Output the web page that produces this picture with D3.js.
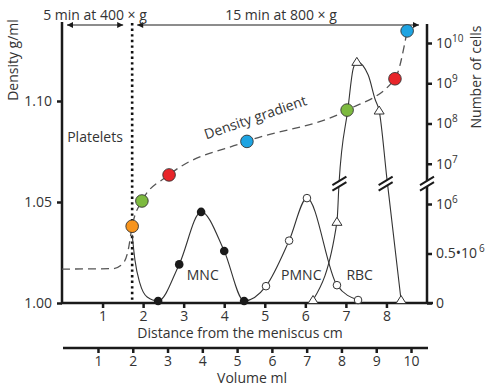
<!DOCTYPE html>
<html><head><meta charset="utf-8">
<script src="https://cdn.jsdelivr.net/npm/d3@7"></script>
<style>
html,body{margin:0;padding:0;background:#fff;}
svg text{font-family:"Open Sans","Noto Sans",sans-serif;fill:#333;}
</style></head>
<body>
<svg id="c" width="493" height="390"></svg>
<script>
// ---- Data ----
const distTicks = [1,2,3,4,5,6,7,8];
const volTicks = [1,2,3,4,5,6,7,8,9,10];
const densityTicks = [1.00, 1.05, 1.10];
const cellTicksLin = [0, 0.5e6, 1e6];
const cellTicksLog = [1e7, 1e8, 1e9, 1e10];

// density gradient (dashed) — distance cm, density g/ml
const gradX = [0, 1.25, 1.5, 1.63, 1.73, 1.97, 2.64, 4.56, 7.03, 8.21, 8.51];
const gradY = [1.0168, 1.0170, 1.0195, 1.026, 1.038, 1.0505, 1.0634, 1.080, 1.0955, 1.111, 1.1347];
// density marker beads
const beadX = [1.73, 1.97, 2.64, 4.56, 7.03, 8.21, 8.51];
const beadY = [1.038, 1.0505, 1.0634, 1.080, 1.0955, 1.111, 1.1347];
const beadColor = ["#f7941d", "#7dba3f", "#e8252a", "#1ea4e2", "#7dba3f", "#e8252a", "#1ea4e2"];

// platelets + MNC + PMNC cell curve
const cellX = [1.73, 1.80, 1.92, 2.10, 2.37, 2.89, 3.43, 4.00, 4.49, 5.03, 5.60, 6.04, 6.78, 7.30];
const cellV = [0.69e6, 0.43e6, 0.2e6, 0.06e6, 0.02e6, 0.39e6, 0.92e6, 0.525e6, 0.02e6, 0.17e6, 0.63e6, 1.4e6, 0.18e6, 0.03e6];
const mncX = [2.37, 2.89, 3.43, 4.00, 4.49];
const mncV = [0.02e6, 0.39e6, 0.92e6, 0.525e6, 0.02e6];
const pmncX = [5.03, 5.60, 6.04, 6.78, 7.30];
const pmncV = [0.17e6, 0.63e6, 1.4e6, 0.18e6, 0.03e6];

// RBC curve
const rbcX = [6.19, 6.78, 6.83, 7.05, 7.18, 7.27, 7.55, 7.72, 7.82, 8.01, 8.36];
const rbcV = [0.03e6, 0.82e6, 3.2e6, 2.3e8, 2.3e9, 3.4e9, 1.6e9, 4e8, 2.1e8, 4.4e6, 0.03e6];
const rbcMarkX = [6.19, 6.78, 7.27, 7.82, 8.36];
const rbcMarkV = [0.03e6, 0.82e6, 3.4e9, 2.1e8, 0.03e6];

// axis breaks (distance cm) at break value
const breakX = [6.84, 7.98, 9.0];
const breakV = 3.2e6;

const curveLabels = ["MNC", "PMNC", "RBC"];
const curveLabelX = [3.47, 5.9, 7.34];
const curveLabelV = [0.28e6, 0.28e6, 0.28e6];

// ---- Scales ----
const svg = d3.select("#c");
const x = d3.scaleLinear().domain([0, 9]).range([62, 427]);
const xVol = d3.scaleLinear().domain([0, 10.5]).range([63.2, 428.4]);
const yDen = d3.scaleLinear().domain([1.00, 1.10]).range([303, 101]);
const yLin = d3.scaleLinear().domain([0, 1e6]).range([303, 204]);
const yLog = d3.scaleLog().domain([1e6, 1e10]).range([204, 43]);
const yCell = v => v <= 1e6 ? yLin(v) : yLog(v);

const ink = "#1a1a1a";

// ---- Left axis ----
const gL = svg.append("g").attr("transform", "translate(62,0)");
gL.call(d3.axisLeft(yDen).tickValues(densityTicks).tickSize(5).tickPadding(5).tickFormat(d3.format(".2f")));
gL.select(".domain").remove();
gL.selectAll(".tick line").attr("stroke", ink).attr("stroke-width", 2.5);
gL.selectAll(".tick text").attr("font-size", 14).attr("fill", "#333").style("font-family", "'Open Sans'");
svg.append("line").attr("x1", 62).attr("x2", 62).attr("y1", 22).attr("y2", 304).attr("stroke", ink).attr("stroke-width", 2.5);
svg.append("text").attr("transform", "translate(18,60) rotate(-90)").attr("text-anchor", "middle").attr("font-size", 14).text("Density g/ml");

// ---- Right axis ----
const gR1 = svg.append("g").attr("transform", "translate(427,0)");
gR1.call(d3.axisRight(yLin).tickValues(cellTicksLin).tickSize(5).tickPadding(4));
const gR2 = svg.append("g").attr("transform", "translate(427,0)");
gR2.call(d3.axisRight(yLog).tickValues(cellTicksLog).tickSize(5).tickPadding(4));
[gR1, gR2].forEach(g => {
  g.select(".domain").remove();
  g.selectAll(".tick line").attr("stroke", ink).attr("stroke-width", 2.5);
  g.selectAll(".tick text").attr("font-size", 14).attr("fill", "#333").style("font-family", "'Open Sans'")
    .each(function(d) {
      const t = d3.select(this); t.text("");
      if (d === 0) { t.text("0"); }
      else if (d === 0.5e6) {
        t.append("tspan").text("0.5\u202210");
        t.append("tspan").attr("font-size", 10).attr("dy", -6).attr("dx", 2).text("6");
      } else {
        const e = Math.round(Math.log10(d));
        t.append("tspan").text("10");
        t.append("tspan").attr("font-size", 10).attr("dy", -6).text(e);
      }
    });
});
svg.append("line").attr("x1", 427).attr("x2", 427).attr("y1", 24).attr("y2", 304).attr("stroke", ink).attr("stroke-width", 2.5);
svg.append("text").attr("transform", "translate(481,77) rotate(-90)").attr("text-anchor", "middle").attr("font-size", 14).text("Number of cells");

// ---- Bottom distance axis ----
const gB = svg.append("g").attr("transform", "translate(0,303)");
gB.call(d3.axisBottom(x).tickValues(distTicks).tickSize(5).tickPadding(3).tickFormat(d3.format("d")));
gB.select(".domain").remove();
gB.selectAll(".tick line").attr("stroke", ink).attr("stroke-width", 2.5);
gB.selectAll(".tick text").attr("font-size", 14).attr("fill", "#333").style("font-family", "'Open Sans'");
svg.append("line").attr("x1", 61).attr("x2", 433).attr("y1", 303).attr("y2", 303).attr("stroke", ink).attr("stroke-width", 2.5);
svg.append("text").attr("x", 240).attr("y", 338).attr("text-anchor", "middle").attr("font-size", 14).text("Distance from the meniscus cm");

// ---- Volume axis ----
const gV = svg.append("g").attr("transform", "translate(0,348)");
gV.call(d3.axisBottom(xVol).tickValues(volTicks).tickSize(5).tickPadding(3).tickFormat(d3.format("d")));
gV.select(".domain").remove();
gV.selectAll(".tick line").attr("stroke", ink).attr("stroke-width", 2.5);
gV.selectAll(".tick text").attr("font-size", 14).attr("fill", "#333").style("font-family", "'Open Sans'");
svg.append("line").attr("x1", 63).attr("x2", 428).attr("y1", 348).attr("y2", 348).attr("stroke", ink).attr("stroke-width", 2.5);
svg.append("text").attr("x", 252).attr("y", 383).attr("text-anchor", "middle").attr("font-size", 14).text("Volume ml");

// ---- Top annotations ----
const defs = svg.append("defs");
defs.append("marker").attr("id", "ah").attr("viewBox", "0 0 10 10").attr("refX", 10).attr("refY", 5)
  .attr("markerWidth", 7).attr("markerHeight", 6).attr("orient", "auto-start-reverse")
  .append("path").attr("d", "M0,0L10,5L0,10Z").attr("fill", ink);
const splitX = 1.73;
svg.append("line").attr("x1", 67).attr("x2", x(splitX) - 9).attr("y1", 25).attr("y2", 25)
  .attr("stroke", ink).attr("stroke-width", 1).attr("marker-start", "url(#ah)").attr("marker-end", "url(#ah)");
svg.append("line").attr("x1", x(splitX) + 5).attr("x2", 419).attr("y1", 25).attr("y2", 25)
  .attr("stroke", ink).attr("stroke-width", 1).attr("marker-start", "url(#ah)").attr("marker-end", "url(#ah)");
svg.append("text").attr("x", 95).attr("y", 20).attr("text-anchor", "middle").attr("font-size", 14).text("5 min at 400 \u00d7 g");
svg.append("text").attr("x", 281).attr("y", 20).attr("text-anchor", "middle").attr("font-size", 14).text("15 min at 800 \u00d7 g");
svg.append("line").attr("x1", x(splitX)).attr("x2", x(splitX)).attr("y1", 23).attr("y2", 302)
  .attr("stroke", "#111").attr("stroke-width", 2.6).attr("stroke-dasharray", "2.4,3.2");
svg.append("text").attr("x", 95).attr("y", 142).attr("text-anchor", "middle").attr("font-size", 14).text("Platelets");

// ---- Density gradient ----
const lineDen = d3.line().x(d => x(d[0])).y(d => yDen(d[1])).curve(d3.curveMonotoneX);
svg.append("path").datum(gradX.map((v, i) => [v, gradY[i]])).attr("d", lineDen)
  .attr("fill", "none").attr("stroke", "#555").attr("stroke-width", 1.3).attr("stroke-dasharray", "8,5");
svg.append("text").attr("transform", "translate(257,122) rotate(-19)").attr("text-anchor", "middle").attr("font-size", 14).text("Density gradient");

// ---- Cell curves ----
const lineCell = d3.line().x(d => x(d[0])).y(d => yCell(d[1])).curve(d3.curveMonotoneX);
svg.append("path").datum(cellX.map((v, i) => [v, cellV[i]])).attr("d", lineCell)
  .attr("fill", "none").attr("stroke", "#333").attr("stroke-width", 1.1);
svg.append("path").datum(rbcX.map((v, i) => [v, rbcV[i]])).attr("d", lineCell)
  .attr("fill", "none").attr("stroke", "#333").attr("stroke-width", 1.1);

// breaks
breakX.forEach(bx => {
  const cx = x(bx), cy = yCell(breakV);
  const g = svg.append("g").attr("transform", `translate(${cx},${cy})`);
  g.append("path").attr("d", "M-7,2.5L7,-6.5L7,-1.5L-7,7.5Z").attr("fill", "#fff").attr("transform", "translate(0,-0.5)");
  g.append("line").attr("x1", -7).attr("y1", 1.5).attr("x2", 7).attr("y2", -7).attr("stroke", ink).attr("stroke-width", 2);
  g.append("line").attr("x1", -7).attr("y1", 7).attr("x2", 7).attr("y2", -1.5).attr("stroke", ink).attr("stroke-width", 2);
});

// MNC markers
svg.selectAll(".mnc").data(mncX.map((v, i) => [v, mncV[i]])).join("circle")
  .attr("cx", d => x(d[0])).attr("cy", d => yCell(d[1])).attr("r", 4.3).attr("fill", "#1a1a1a");
// PMNC markers
svg.selectAll(".pmnc").data(pmncX.map((v, i) => [v, pmncV[i]])).join("circle")
  .attr("cx", d => x(d[0])).attr("cy", d => yCell(d[1])).attr("r", 3.8).attr("fill", "#fff").attr("stroke", "#333").attr("stroke-width", 1);
// RBC triangles
svg.selectAll(".rbc").data(rbcMarkX.map((v, i) => [v, rbcMarkV[i]])).join("path")
  .attr("transform", d => `translate(${x(d[0])},${yCell(d[1])})`)
  .attr("d", "M0,-4.5L5,3.5L-5,3.5Z").attr("fill", "#fff").attr("stroke", "#333").attr("stroke-width", 1);

// density beads
svg.selectAll(".bead").data(beadX.map((v, i) => [v, beadY[i], beadColor[i]])).join("circle")
  .attr("cx", d => x(d[0])).attr("cy", d => yDen(d[1])).attr("r", 6.3)
  .attr("fill", d => d[2]).attr("stroke", "#333").attr("stroke-width", 0.9);

// curve labels
curveLabels.forEach((t, i) => {
  svg.append("text").attr("x", x(curveLabelX[i])).attr("y", yCell(curveLabelV[i]) + 5)
    .attr("text-anchor", "middle").attr("font-size", 14).text(t);
});
</script>
</body></html>
